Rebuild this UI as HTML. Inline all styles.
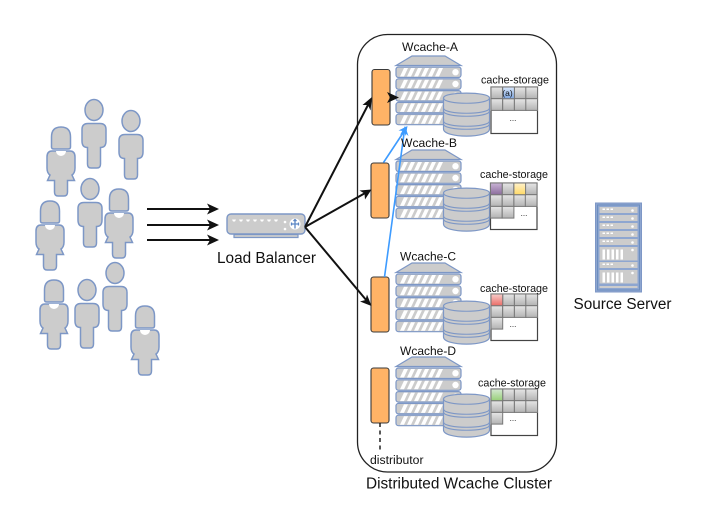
<!DOCTYPE html>
<html>
<head>
<meta charset="utf-8">
<style>
html,body{margin:0;padding:0;background:#fff;width:701px;height:524px;overflow:hidden}
svg{display:block;filter:blur(0.35px)}
text{font-family:"Liberation Sans",sans-serif;fill:#111}
</style>
</head>
<body>
<svg width="701" height="524" viewBox="0 0 701 524" xmlns="http://www.w3.org/2000/svg">
<defs>
<linearGradient id="g" x1="0" y1="0" x2="0" y2="1"><stop offset="0" stop-color="#e6e6e6"/><stop offset="1" stop-color="#b3b3b3"/></linearGradient>
<linearGradient id="gb" x1="0" y1="0" x2="0" y2="1"><stop offset="0" stop-color="#dae8fc"/><stop offset="1" stop-color="#7ea6e0"/></linearGradient>
<linearGradient id="gp" x1="0" y1="0" x2="0" y2="1"><stop offset="0" stop-color="#c9b4d6"/><stop offset="1" stop-color="#8c6c9c"/></linearGradient>
<linearGradient id="gy" x1="0" y1="0" x2="0" y2="1"><stop offset="0" stop-color="#fff2cc"/><stop offset="1" stop-color="#ffd966"/></linearGradient>
<linearGradient id="gr" x1="0" y1="0" x2="0" y2="1"><stop offset="0" stop-color="#f8cecc"/><stop offset="1" stop-color="#ea6b66"/></linearGradient>
<linearGradient id="gn" x1="0" y1="0" x2="0" y2="1"><stop offset="0" stop-color="#d5e8d4"/><stop offset="1" stop-color="#97d077"/></linearGradient>

<g id="blade">
<rect x="0" y="0" width="65" height="10.500" rx="2.500" fill="#ccc" stroke="#7d97c6" stroke-width="1.200"/>
<path d="M4 9.500L8 1H12L8 9.500zM11 9.500L15 1H19L15 9.500zM18 9.500L22 1H26L22 9.500zM25 9.500L29 1H33L29 9.500zM32 9.500L36 1H40L36 9.500zM39 9.500L43 1H47L43 9.500z" fill="#fff"/>
<circle cx="59.500" cy="5.200" r="3.200" fill="#fff"/>
</g>
<g id="server">
<path d="M0 9.500L16 0H49L65 9.500Z" fill="#ccc" stroke="#7d97c6" stroke-width="1.200"/>
<use href="#blade" y="11"/>
<use href="#blade" y="22.800"/>
<use href="#blade" y="34.600"/>
<use href="#blade" y="46.400"/>
<use href="#blade" y="58.200"/>
</g>
<g id="db">
<path d="M0 7C0 0.500 46 0.500 46 7V38C46 47.500 0 47.500 0 38Z" fill="#ccc" stroke="#7d97c6" stroke-width="1.200"/>
<path d="M0 7C0 14 46 14 46 7M0 17C0 24 46 24 46 17M0 20C0 27 46 27 46 20M0 30C0 37 46 37 46 30M0 33C0 40 46 40 46 33" fill="none" stroke="#7d97c6" stroke-width="1.100"/>
</g>
<g id="man">
<ellipse cx="0" cy="0" rx="9" ry="10.500" fill="#ccc" stroke="#7d97c6" stroke-width="1.500"/>
<path d="M-6 13.500H6Q12 13.500 12 19.500V31Q12 37.500 6.500 37.500V54Q6.500 58 3 58H-3Q-6.500 58 -6.500 54V37.500Q-12 37.500 -12 31V19.500Q-12 13.500 -6 13.500Z" fill="#ccc" stroke="#7d97c6" stroke-width="1.500"/>
</g>
<g id="woman">
<path d="M-9.500 20V10Q-9.500 0 0 0Q9.500 0 9.500 10V20Q9.500 22 7 22H-7Q-9.500 22 -9.500 20Z" fill="#ccc" stroke="#7d97c6" stroke-width="1.500"/>
<path d="M-9 24H9Q14 24 14 30V41Q14 46 11 48L13.500 53.500H6.500V65Q6.500 69 3 69H-3Q-6.500 69 -6.500 65V53.500H-13.500L-11 48Q-14 46 -14 41V30Q-14 24 -9 24Z" fill="#ccc" stroke="#7d97c6" stroke-width="1.500"/>
<path d="M-5 24A5 5 0 0 0 5 24Z" fill="#fff"/>
</g>
<g id="sb">
<rect width="38" height="6" fill="#ccc"/>
<rect x="3" y="1.500" width="2.500" height="1.500" fill="#fff"/><rect x="7" y="1.500" width="2.500" height="1.500" fill="#fff"/><rect x="11" y="1.500" width="2.500" height="1.500" fill="#fff"/>
<circle cx="33" cy="3.500" r="1.300" fill="#fff"/>
</g>
<g id="sl">
<rect width="38" height="13.500" fill="#ccc"/>
<path d="M3 2.500h2.500v10H3zM7.500 2.500h2.500v10H7.500zM12 2.500h2.500v10H12zM16.500 2.500h2.500v10H16.500zM21 2.500h2.500v10H21z" fill="#fff"/>
<circle cx="33" cy="3" r="1.300" fill="#fff"/>
</g>
<g id="cell"><rect width="11.700" height="11.700" fill="url(#g)" stroke="#777" stroke-width="1"/></g>
<g id="tbl">
<rect width="46.500" height="46.500" fill="#fff" stroke="#444" stroke-width="1.200"/>
<use href="#cell" x="0" y="0"/><use href="#cell" x="11.700" y="0"/><use href="#cell" x="23.400" y="0"/><use href="#cell" x="34.800" y="0"/>
<use href="#cell" x="0" y="11.700"/><use href="#cell" x="11.700" y="11.700"/><use href="#cell" x="23.400" y="11.700"/><use href="#cell" x="34.800" y="11.700"/>
</g>
</defs>

<rect width="701" height="524" fill="#fff"/>

<!-- cluster -->
<rect x="357.500" y="34.500" width="199" height="437.500" rx="30" fill="#fff" stroke="#222" stroke-width="1.300"/>

<!-- people -->
<use href="#man" x="94" y="110"/>
<use href="#man" x="131" y="121"/>
<use href="#woman" x="61" y="127"/>
<use href="#man" x="90" y="189"/>
<use href="#woman" x="50" y="201"/>
<use href="#woman" x="119" y="189"/>
<use href="#man" x="115" y="273"/>
<use href="#man" x="87" y="290"/>
<use href="#woman" x="54" y="280"/>
<use href="#woman" x="145" y="306"/>

<!-- user arrows -->
<g stroke="#111" stroke-width="2" fill="none">
<path d="M147 209H212M147 225H212M147 240H212"/>
</g>
<g fill="#111">
<path d="M219 209L207 203.500L210 209L207 214.500Z"/>
<path d="M219 225L207 219.500L210 225L207 230.500Z"/>
<path d="M219 240L207 234.500L210 240L207 245.500Z"/>
</g>

<!-- load balancer -->
<path d="M234 234.500H298V237.500H234Z" fill="#ccc" stroke="#7d97c6" stroke-width="1.200"/>
<rect x="227" y="214" width="78" height="20" rx="4" fill="#ccc" stroke="#7d97c6" stroke-width="1.400"/>
<path d="M232 219.500h4l-1 2h-2zM239 219.500h4l-1 2h-2zM246 219.500h4l-1 2h-2zM253 219.500h4l-1 2h-2zM260 219.500h4l-1 2h-2zM267 219.500h4l-1 2h-2zM274 219.500h4l-1 2h-2z" fill="#fff"/>
<circle cx="285" cy="222" r="1.300" fill="#fff"/><circle cx="285" cy="229" r="1.300" fill="#fff"/>
<circle cx="295" cy="224" r="5.500" fill="#fff"/>
<path d="M295 219.500v9M291 224h8M293.500 221l1.500-1.500 1.500 1.500M291.500 222.500v3M298.500 222.500v3" stroke="#5b86c4" stroke-width="1.300" fill="none"/>

<!-- servers -->
<use href="#server" x="396" y="56"/>
<use href="#server" x="396" y="150"/>
<use href="#server" x="396" y="263"/>
<use href="#server" x="396" y="357"/>

<!-- dbs -->
<use href="#db" x="443.500" y="91"/>
<use href="#db" x="443.500" y="186"/>
<use href="#db" x="443.500" y="299"/>
<use href="#db" x="443.500" y="392"/>

<!-- tables -->
<use href="#tbl" x="491" y="87"/>
<rect x="502.700" y="87" width="11.700" height="11.700" fill="url(#gb)" stroke="#777" stroke-width="1"/>
<text x="507.500" y="96" font-size="8.500" text-anchor="middle">(a)</text>
<text x="513" y="121" font-size="8" text-anchor="middle" fill="#333">...</text>

<use href="#tbl" x="490.500" y="183"/>
<rect x="490.500" y="183" width="11.700" height="11.700" fill="url(#gp)" stroke="#777" stroke-width="1"/>
<rect x="513.900" y="183" width="11.700" height="11.700" fill="url(#gy)" stroke="#777" stroke-width="1"/>
<use href="#cell" x="490.500" y="206.400"/><use href="#cell" x="502.200" y="206.400"/>
<text x="524" y="216" font-size="8" text-anchor="middle" fill="#333">...</text>

<use href="#tbl" x="491" y="294"/>
<rect x="491" y="294" width="11.700" height="11.700" fill="url(#gr)" stroke="#777" stroke-width="1"/>
<use href="#cell" x="491" y="317.400"/>
<text x="513" y="327" font-size="8" text-anchor="middle" fill="#333">...</text>

<use href="#tbl" x="491" y="389"/>
<rect x="491" y="389" width="11.700" height="11.700" fill="url(#gn)" stroke="#777" stroke-width="1"/>
<use href="#cell" x="491" y="412.400"/>
<text x="513" y="421" font-size="8" text-anchor="middle" fill="#333">...</text>

<!-- distributors -->
<g fill="#ffb366" stroke="#3a3a3a" stroke-width="1.100">
<rect x="372" y="69.500" width="18" height="55.500" rx="2.500"/>
<rect x="371" y="163" width="18" height="55" rx="2.500"/>
<rect x="371" y="277" width="18" height="55" rx="2.500"/>
<rect x="371" y="368" width="18" height="55" rx="2.500"/>
</g>
<path d="M380 423V452" stroke="#111" stroke-width="1.400" stroke-dasharray="4 3.500" fill="none"/>

<!-- blue arrows -->
<g stroke="#3d9bff" stroke-width="1.600" fill="none">
<path d="M383.500 162.500L405 130M384.500 277L404.500 130"/>
</g>
<path d="M407.500 126L398.500 130.500L403.800 131L405.800 136Z" fill="#3d9bff"/>
<path d="M405 126L400 135L404.500 132.500L408.500 136Z" fill="#3d9bff"/>

<!-- LB arrows -->
<g stroke="#111" stroke-width="2" fill="none">
<path d="M305 227L369 103M305 227L367 192M305 227L367 301M390 97.500H395"/>
</g>
<path d="M372 97L362.500 105L368 105L370.500 110.500Z" fill="#111"/>
<path d="M371.500 189.500L359.500 190.500L364.500 193.500L365 199.500Z" fill="#111"/>
<path d="M371.500 306L367 294.500L365.500 300L360 301.500Z" fill="#111"/>
<path d="M399 97.500L387 92L390 97.500L387 103Z" fill="#111"/>

<!-- source server -->
<rect x="595.500" y="203" width="46" height="89" fill="#8ea6d0" stroke="#7d97c6" stroke-width="1"/>
<rect x="597.500" y="205" width="42" height="85" fill="none" stroke="#6c8ebf" stroke-width="1"/>
<use href="#sb" x="599.500" y="207"/>
<use href="#sb" x="599.500" y="215"/>
<use href="#sb" x="599.500" y="223"/>
<use href="#sb" x="599.500" y="231"/>
<use href="#sb" x="599.500" y="239"/>
<use href="#sl" x="599.500" y="247"/>
<use href="#sb" x="599.500" y="262"/>
<use href="#sl" x="599.500" y="270"/>
<rect x="599.500" y="286" width="38" height="2" fill="#ccc"/>

<!-- labels -->
<text x="402" y="51" font-size="12.300" textLength="56" lengthAdjust="spacingAndGlyphs">Wcache-A</text>
<text x="401" y="147" font-size="12.300" textLength="56" lengthAdjust="spacingAndGlyphs">Wcache-B</text>
<text x="400" y="260.500" font-size="12.300" textLength="56" lengthAdjust="spacingAndGlyphs">Wcache-C</text>
<text x="400" y="355" font-size="12.300" textLength="56" lengthAdjust="spacingAndGlyphs">Wcache-D</text>
<text x="481" y="83.500" font-size="11" textLength="68" lengthAdjust="spacingAndGlyphs">cache-storage</text>
<text x="480" y="178" font-size="11" textLength="68" lengthAdjust="spacingAndGlyphs">cache-storage</text>
<text x="480" y="292" font-size="11" textLength="68" lengthAdjust="spacingAndGlyphs">cache-storage</text>
<text x="478" y="386.500" font-size="11" textLength="68" lengthAdjust="spacingAndGlyphs">cache-storage</text>
<text x="370" y="464" font-size="12.200" textLength="53.500" lengthAdjust="spacingAndGlyphs">distributor</text>
<text x="366" y="488.500" font-size="15.400" textLength="186" lengthAdjust="spacingAndGlyphs">Distributed Wcache Cluster</text>
<text x="217" y="263" font-size="15.400" textLength="99" lengthAdjust="spacingAndGlyphs">Load Balancer</text>
<text x="573.500" y="309" font-size="15.400" textLength="98" lengthAdjust="spacingAndGlyphs">Source Server</text>
</svg>
</body>
</html>
